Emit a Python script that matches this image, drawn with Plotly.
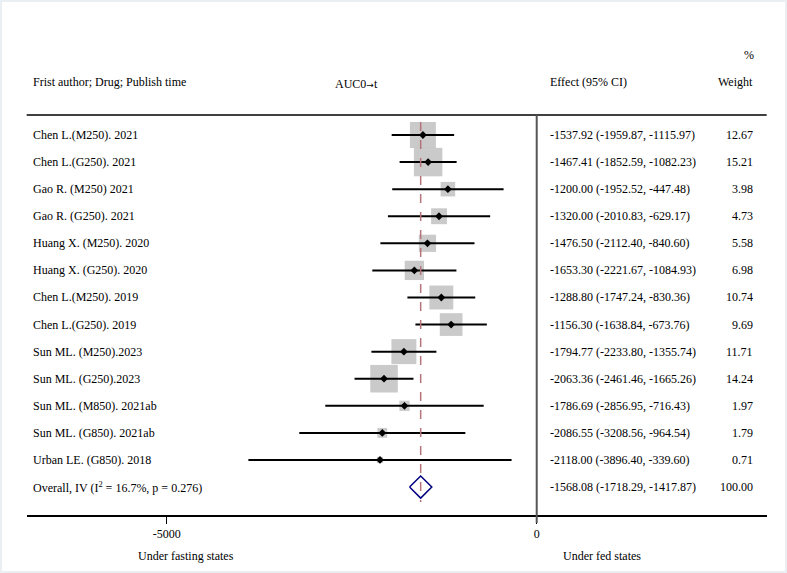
import plotly.graph_objects as go

# ---- data ----
studies = ["Chen L.(M250). 2021", "Chen L.(G250). 2021", "Gao R. (M250) 2021", "Gao R. (G250). 2021",
           "Huang X. (M250). 2020", "Huang X. (G250). 2020", "Chen L.(M250). 2019", "Chen L.(G250). 2019",
           "Sun ML. (M250).2023", "Sun ML. (G250).2023", "Sun ML. (M850). 2021ab", "Sun ML. (G850). 2021ab",
           "Urban LE. (G850). 2018"]
effect = [-1537.92, -1467.41, -1200.00, -1320.00, -1476.50, -1653.30, -1288.80, -1156.30,
          -1794.77, -2063.36, -1786.69, -2086.55, -2118.00]
ci_low = [-1959.87, -1852.59, -1952.52, -2010.83, -2112.40, -2221.67, -1747.24, -1638.84,
          -2233.80, -2461.46, -2856.95, -3208.56, -3896.40]
ci_high = [-1115.97, -1082.23, -447.48, -629.17, -840.60, -1084.93, -830.36, -673.76,
           -1355.74, -1665.26, -716.43, -964.54, -339.60]
weights = [12.67, 15.21, 3.98, 4.73, 5.58, 6.98, 10.74, 9.69, 11.71, 14.24, 1.97, 1.79, 0.71]
overall_label = "Overall, IV (I<sup>2</sup> = 16.7%, p = 0.276)"
overall = -1568.08
overall_low = -1718.29
overall_high = -1417.87
overall_weight = 100.00
tick_vals = [-5000, 0]
tick_text = ["-5000", "0"]

W, H = 787, 573
FONT = "Liberation Serif"
n = len(studies)
rows = [-i for i in range(n)]
overall_row = -n

def py(px):  # pixel y -> row coordinate
    return -(px - 135) / 27.08

fig = go.Figure()

# weight boxes
fig.add_trace(go.Scatter(
    x=effect, y=rows, mode="markers",
    marker=dict(symbol="square", size=[7.3 * w ** 0.5 for w in weights], color="#b4b4b4",
                line=dict(width=0)),
    hoverinfo="skip", showlegend=False))

# CI lines
xs, ys = [], []
for lo, hi, r in zip(ci_low, ci_high, rows):
    xs += [lo, hi, None]
    ys += [r, r, None]
fig.add_trace(go.Scatter(x=xs, y=ys, mode="lines", line=dict(color="black", width=2),
                         hoverinfo="skip", showlegend=False))

# point estimates
fig.add_trace(go.Scatter(x=effect, y=rows, mode="markers",
                         marker=dict(symbol="diamond", size=6, color="black"),
                         showlegend=False))

# overall diamond
h = 0.41
fig.add_trace(go.Scatter(
    x=[overall_low, overall, overall_high, overall, overall_low],
    y=[overall_row, overall_row + h, overall_row, overall_row - h, overall_row],
    mode="lines", fill="toself", fillcolor="white",
    line=dict(color="#000080", width=1.5), hoverinfo="skip", showlegend=False))

shapes = [
    # white inner card
    dict(type="rect", xref="paper", yref="paper", x0=2 / W, x1=785 / W, y0=1 - 571 / H, y1=1 - 2 / H,
         fillcolor="white", line=dict(width=0), layer="below"),
    # top header rule
    dict(type="line", xref="x domain", yref="y", x0=0, x1=1, y0=py(115), y1=py(115),
         line=dict(color="black", width=1.5)),
    # null line
    dict(type="line", xref="x", yref="paper", x0=0, x1=0, y0=1 - 115 / H, y1=1 - 523 / H,
         line=dict(color="#555555", width=2)),
    # overall dashed line
    dict(type="line", xref="x", yref="y", x0=overall, x1=overall, y0=py(122), y1=py(502),
         line=dict(color="#b5737a", width=1.5, dash="dash")),
]

ann = []
def txt(text, x, y, xanchor="left", yref="y", size=12):
    ann.append(dict(text=text, x=x, y=y, xref="paper", yref=yref, xanchor=xanchor,
                    yanchor="middle", showarrow=False, font=dict(family=FONT, size=size, color="black")))

for s, e, lo, hi, w, r in zip(studies, effect, ci_low, ci_high, weights, rows):
    txt(s, 31 / W, r)
    txt(f"{e:.2f} ({lo:.2f}, {hi:.2f})", 548 / W, r)
    txt(f"{w:.2f}", 755 / W, r, xanchor="right")
txt(overall_label, 31 / W, overall_row)
txt(f"{overall:.2f} ({overall_low:.2f}, {overall_high:.2f})", 548 / W, overall_row)
txt(f"{overall_weight:.2f}", 755 / W, overall_row, xanchor="right")

# headers
txt("Frist author; Drug; Publish time", 31 / W, py(82))
txt("AUC0<span style='font-family:DejaVu Sans;font-size:9px'>→</span>t", 356 / W, py(84), xanchor="center")
txt("Effect (95% CI)", 548 / W, py(82))
txt("Weight", 755 / W, py(82), xanchor="right")
txt("%", 756 / W, py(55), xanchor="right")
# bottom titles
txt("Under fasting states", 186 / W, 1 - 556 / H, xanchor="center", yref="paper")
txt("Under fed states", 602 / W, 1 - 556 / H, xanchor="center", yref="paper")

fig.update_layout(
    width=W, height=H,
    margin=dict(l=0, r=0, t=0, b=0),
    paper_bgcolor="#e9eff3", plot_bgcolor="rgba(0,0,0,0)",
    shapes=shapes, annotations=ann, showlegend=False,
    xaxis=dict(domain=[26.7 / W, 766.7 / W], range=[-6892, 3108], showgrid=False, zeroline=False,
               showline=True, linecolor="black", linewidth=1.5,
               ticks="outside", ticklen=7, tickwidth=1.2, tickcolor="black",
               tickvals=tick_vals, ticktext=tick_text,
               tickfont=dict(family=FONT, size=12, color="black")),
    yaxis=dict(domain=[1 - 515 / H, 1], range=[py(515), py(0)], visible=False, showgrid=False,
               zeroline=False),
)

fig.write_html("out.html", config={"displayModeBar": False},
               post_script="document.body.style.margin='0';document.body.style.overflow='hidden';")
